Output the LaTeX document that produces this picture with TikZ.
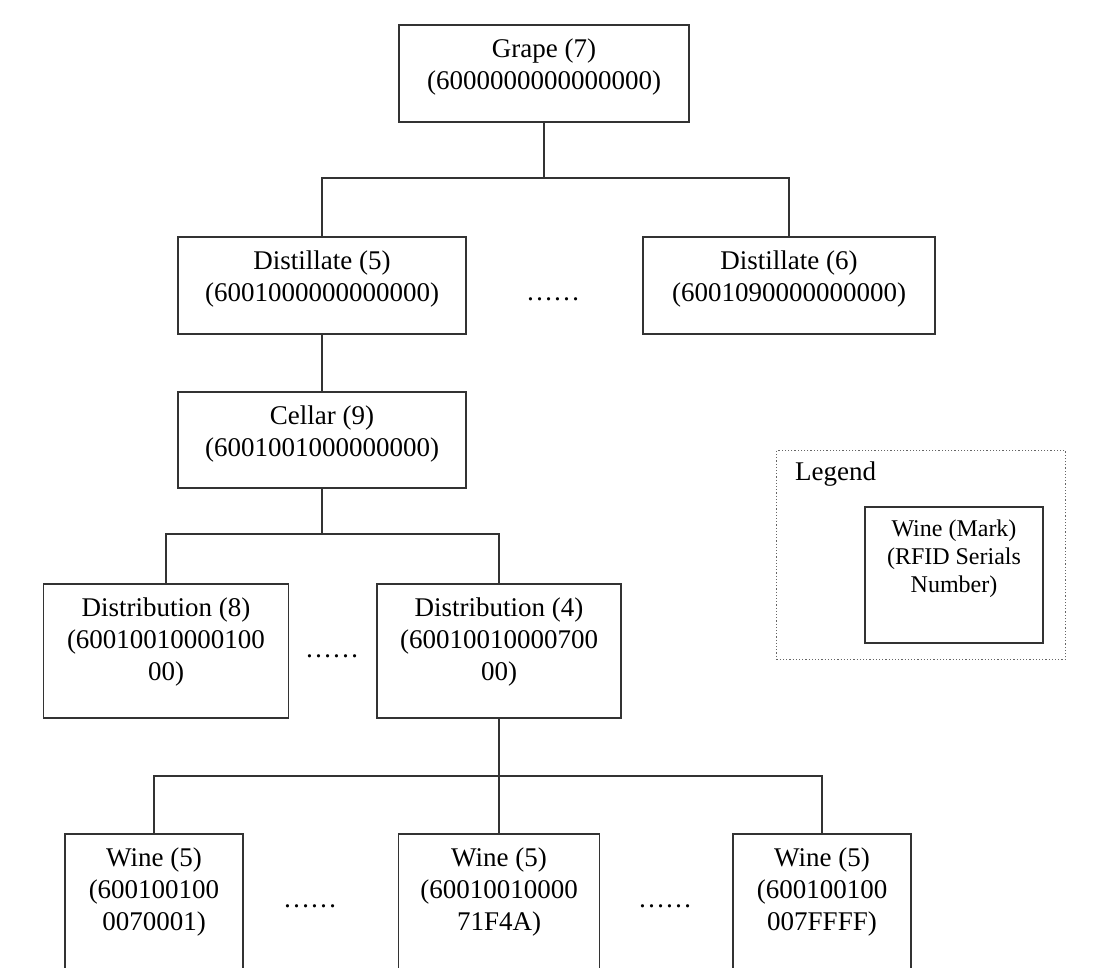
\documentclass[tikz,border=0pt]{standalone}
\usepackage{fontspec}
\setmainfont{Liberation Serif}
\begin{document}
\begin{tikzpicture}[x=1pt,y=-1pt,
  box/.style={draw=black!80, line width=1.6pt, rectangle, inner sep=0pt, anchor=north},
  txt/.style={inner sep=0pt, align=center, anchor=north, font=\fontsize{27}{32}\selectfont},
  smalltxt/.style={inner sep=0pt, align=center, anchor=north, font=\fontsize{24}{28}\selectfont},
  wire/.style={draw=black!80, line width=1.6pt},
  gap/.style={inner sep=0pt, anchor=base, font=\fontsize{27}{32}\selectfont},
  legendframe/.style={draw=black!60, line width=1.2pt, dotted, rectangle, inner sep=0pt, anchor=north west}
]
\useasboundingbox (0,0) rectangle (1108,967);
\fill[white] (0,0) rectangle (1108,967);
\clip (0,0) rectangle (1108,967);

% --- boxes ---
\node[box, minimum width=290, minimum height=97] (grape) at (544,24) {};
\node[box, minimum width=288, minimum height=97] (dista) at (322,236) {};
\node[box, minimum width=292, minimum height=97] (distb) at (789,236) {};
\node[box, minimum width=288, minimum height=96] (cellar) at (322,391) {};
\node[box, minimum width=245, minimum height=134] (distr8) at (166,583) {};
\node[box, minimum width=244, minimum height=134] (distr4) at (499,583) {};
\node[box, minimum width=178, minimum height=160] (wine1) at (154,833) {};
\node[box, minimum width=201, minimum height=160] (wine2) at (499,833) {};
\node[box, minimum width=178, minimum height=160] (wine3) at (822,833) {};

% --- box texts ---
\node[txt] (grape-t) at ([yshift=-15pt]grape.north) {Grape (7)\\(6000000000000000)};
\node[txt] (dista-t) at ([yshift=-15pt]dista.north) {Distillate (5)\\(6001000000000000)};
\node[txt] (distb-t) at ([yshift=-15pt]distb.north) {Distillate (6)\\(6001090000000000)};
\node[txt] (cellar-t) at ([yshift=-15pt]cellar.north) {Cellar (9)\\(6001001000000000)};
\node[txt] (distr8-t) at ([yshift=-15pt]distr8.north) {Distribution (8)\\(60010010000100\\00)};
\node[txt] (distr4-t) at ([yshift=-15pt]distr4.north) {Distribution (4)\\(60010010000700\\00)};
\node[txt] (wine1-t) at ([yshift=-15pt]wine1.north) {Wine (5)\\(600100100\\0070001)};
\node[txt] (wine2-t) at ([yshift=-15pt]wine2.north) {Wine (5)\\(60010010000\\71F4A)};
\node[txt] (wine3-t) at ([yshift=-15pt]wine3.north) {Wine (5)\\(600100100\\007FFFF)};

% --- elided siblings ---
\node[gap] (gap1) at (553,300) {……};
\node[gap] (gap2) at (332,657) {……};
\node[gap] (gap3) at (310,907) {……};
\node[gap] (gap4) at (665,907) {……};

% --- connectors ---
\coordinate (j1) at (544,178);
\coordinate (j2) at (322,534);
\coordinate (j3) at (499,776);
\draw[wire] (grape.south) -- (j1);
\draw[wire] (dista.north) -- (dista.north |- j1) -- (distb.north |- j1) -- (distb.north);
\draw[wire] (dista.south) -- (cellar.north);
\draw[wire] (cellar.south) -- (j2);
\draw[wire] (distr8.north) -- (distr8.north |- j2) -- (distr4.north |- j2) -- (distr4.north);
\draw[wire] (distr4.south) -- (j3);
\draw[wire] (wine1.north) -- (wine1.north |- j3) -- (wine3.north |- j3) -- (wine3.north);
\draw[wire] (j3) -- (wine2.north);

% --- legend ---
\node[legendframe, minimum width=289, minimum height=209] (legend) at (776,450) {};
\node[inner sep=0pt, anchor=base west, font=\fontsize{27}{32}\selectfont] (legend-t) at (795,480) {Legend};
\node[box, minimum width=178, minimum height=136] (key) at (954,506) {};
\node[smalltxt] (key-t) at ([yshift=-14pt]key.north) {Wine (Mark)\\(RFID Serials\\Number)};
\end{tikzpicture}
\end{document}
